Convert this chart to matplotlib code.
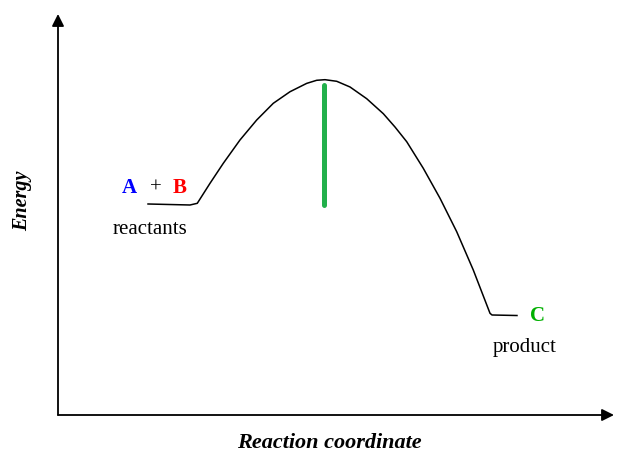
import matplotlib
matplotlib.use("Agg")
import matplotlib.pyplot as plt

# Reaction coordinate (0-100) and energy (0-100) of the profile
reaction_coord = [16.19, 23.74, 25.05, 27.34, 29.73, 32.73, 35.74, 38.72, 41.73,
                  44.73, 46.53, 48.02, 50.13, 52.52, 55.52, 58.51, 60.61,
                  62.72, 65.70, 68.71, 71.71, 74.69, 77.70, 78.06, 82.55]
energy = [52.62, 52.37, 52.79, 57.78, 62.77, 68.58, 73.57, 77.73, 80.62,
          82.70, 83.47, 83.62, 83.22, 81.80, 78.88, 75.14, 71.82,
          68.15, 61.52, 54.04, 45.71, 36.16, 25.36, 24.94, 24.81]

# Activation energy bar
barrier_x = [47.9, 47.9]
barrier_y = [52.4, 82.3]

serif = ["Liberation Serif", "DejaVu Serif"]

fig = plt.figure(figsize=(6.28, 4.66), dpi=100)
ax = fig.add_axes([58/628, 51/466, 556/628, 401/466])
ax.set_xlim(0, 100)
ax.set_ylim(0, 100)
ax.axis("off")

# axes arrows
arrow = dict(arrowstyle="-|>", color="black", lw=1.3, mutation_scale=18,
             shrinkA=0, shrinkB=0)
ax.annotate("", xy=(0, 1), xytext=(0, 0), xycoords="axes fraction",
            textcoords="axes fraction", arrowprops=arrow, annotation_clip=False)
ax.annotate("", xy=(1, 0), xytext=(0, 0), xycoords="axes fraction",
            textcoords="axes fraction", arrowprops=arrow, annotation_clip=False)

ax.plot(reaction_coord, energy, color="black", lw=1.1, solid_joinstyle="round")
ax.plot(barrier_x, barrier_y, color="#22b04b", lw=3.6, solid_capstyle="round")

ax.text(12.9, 56.6, "A", color="#0000ff", fontsize=15, fontweight="bold",
        family=serif, ha="center", va="center")
ax.text(17.6, 56.6, "+", color="black", fontsize=15, family=serif,
        ha="center", va="center")
ax.text(21.9, 56.6, "B", color="#ff0000", fontsize=15, fontweight="bold",
        family=serif, ha="center", va="center")
ax.text(16.5, 46.2, "reactants", color="black", fontsize=15, family=serif,
        ha="center", va="center")
ax.text(86.2, 24.7, "C", color="#00b000", fontsize=15, fontweight="bold",
        family=serif, ha="center", va="center")
ax.text(84.0, 16.8, "product", color="black", fontsize=15, family=serif,
        ha="center", va="center")

fig.text(22/628, 1 - 201/466, "Energy", rotation=90, fontsize=14.5,
         fontweight="bold", fontstyle="italic", family=serif,
         ha="center", va="center")
fig.text(329/628, 1 - 443/466, "Reaction coordinate", fontsize=16,
         fontweight="bold", fontstyle="italic", family=serif,
         ha="center", va="center")

fig.savefig("out.png", dpi=100)
